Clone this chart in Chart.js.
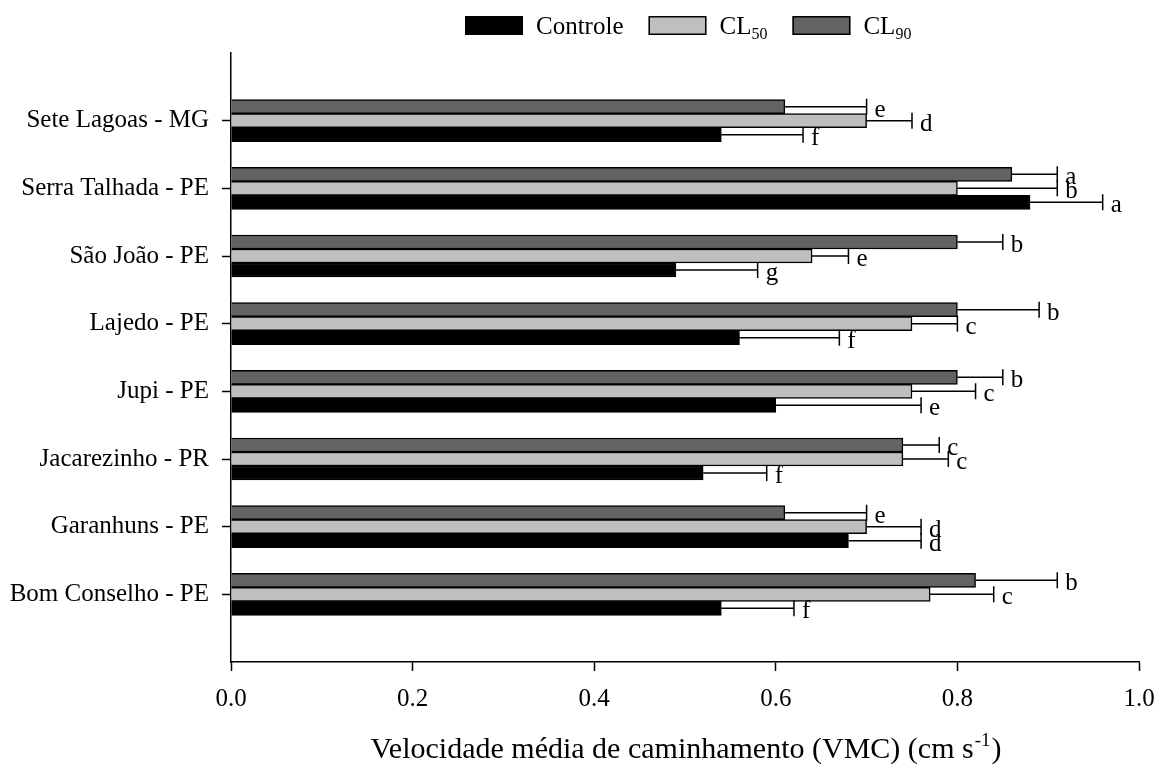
<!DOCTYPE html>
<html>
<head>
<meta charset="utf-8">
<script src="https://cdn.jsdelivr.net/npm/chart.js@4.4.0/dist/chart.umd.min.js"></script>
<style>
  html, body { margin: 0; padding: 0; background: #fff; }
</style>
</head>
<body>
<canvas id="grafico" width="1157" height="765"></canvas>
<script>
// categorias de cima para baixo
const categorias = ['Sete Lagoas - MG', 'Serra Talhada - PE', 'São João - PE', 'Lajedo - PE',
  'Jupi - PE', 'Jacarezinho - PR', 'Garanhuns - PE', 'Bom Conselho - PE'];

const controle = [0.54, 0.88, 0.49, 0.56, 0.60, 0.52, 0.68, 0.54];
const controleErro = [0.09, 0.08, 0.09, 0.11, 0.16, 0.07, 0.08, 0.08];
const controleLetras = ['f', 'a', 'g', 'f', 'e', 'f', 'd', 'f'];

const cl50 = [0.70, 0.80, 0.64, 0.75, 0.75, 0.74, 0.70, 0.77];
const cl50Erro = [0.05, 0.11, 0.04, 0.05, 0.07, 0.05, 0.06, 0.07];
const cl50Letras = ['d', 'b', 'e', 'c', 'c', 'c', 'd', 'c'];

const cl90 = [0.61, 0.86, 0.80, 0.80, 0.80, 0.74, 0.61, 0.82];
const cl90Erro = [0.09, 0.05, 0.05, 0.09, 0.05, 0.04, 0.09, 0.09];
const cl90Letras = ['e', 'a', 'b', 'b', 'b', 'c', 'e', 'b'];

const nomesSeries = ['Controle', 'CL50', 'CL90'];
const xTicks = [0, 0.2, 0.4, 0.6, 0.8, 1.0];
const tituloX = ['Velocidade média de caminhamento (VMC) (cm s', '-1', ')'];

const fonte = '"Liberation Serif", "Times New Roman", serif';
Chart.defaults.font.family = fonte;
Chart.defaults.font.size = 25;
Chart.defaults.color = '#000';

const pontos = vals => vals.map((v, i) => ({ x: v, y: i + 1 }));

// barras de erro + letras
const barrasErro = {
  id: 'barrasErro',
  afterDatasetsDraw(chart) {
    const ctx = chart.ctx;
    const sx = chart.scales.x;
    ctx.save();
    ctx.strokeStyle = '#000';
    ctx.lineWidth = 1.5;
    ctx.fillStyle = '#000';
    ctx.font = '25px ' + fonte;
    ctx.textBaseline = 'alphabetic';
    chart.data.datasets.forEach((ds, i) => {
      chart.getDatasetMeta(i).data.forEach((bar, j) => {
        const fim = sx.getPixelForValue(ds.data[j].x + ds.erros[j]);
        ctx.beginPath();
        ctx.moveTo(bar.x, bar.y);
        ctx.lineTo(fim, bar.y);
        ctx.moveTo(fim, bar.y - 8);
        ctx.lineTo(fim, bar.y + 8);
        ctx.stroke();
        ctx.fillText(ds.letras[j], fim + 8, bar.y + 10);
      });
    });
    ctx.restore();
  }
};

// legenda com subscrito
const legenda = {
  id: 'legenda',
  afterDraw(chart) {
    const ctx = chart.ctx;
    ctx.save();
    let x = 465;
    const y = 16, w = 58, h = 19;
    nomesSeries.forEach(nome => {
      const ds = chart.data.datasets.find(d => d.label === nome);
      ctx.fillStyle = ds.backgroundColor;
      ctx.fillRect(x, y, w, h);
      ctx.lineWidth = 1.5;
      ctx.strokeStyle = '#000';
      ctx.strokeRect(x + 0.75, y + 0.75, w - 1.5, h - 1.5);
      x += w + 13;
      const m = nome.match(/^(\D+)(\d+)$/);
      const base = m ? m[1] : nome;
      ctx.fillStyle = '#000';
      ctx.textBaseline = 'alphabetic';
      ctx.font = '25px ' + fonte;
      ctx.fillText(base, x, 34);
      x += ctx.measureText(base).width;
      if (m) {
        ctx.font = '16px ' + fonte;
        ctx.fillText(m[2], x, 39);
        x += ctx.measureText(m[2]).width;
      }
      x += 25;
    });
    ctx.restore();
  }
};

// titulo do eixo x com sobrescrito
const tituloEixo = {
  id: 'tituloEixo',
  afterDraw(chart) {
    const ctx = chart.ctx;
    const area = chart.chartArea;
    ctx.save();
    ctx.fillStyle = '#000';
    ctx.textBaseline = 'alphabetic';
    ctx.font = '30px ' + fonte;
    const w1 = ctx.measureText(tituloX[0]).width;
    const w3 = ctx.measureText(tituloX[2]).width;
    ctx.font = '19px ' + fonte;
    const w2 = ctx.measureText(tituloX[1]).width;
    let x = (area.left + area.right) / 2 - (w1 + w2 + w3) / 2;
    const base = 758;
    ctx.font = '30px ' + fonte;
    ctx.fillText(tituloX[0], x, base);
    x += w1 + 1;
    ctx.font = '19px ' + fonte;
    ctx.fillText(tituloX[1], x, base - 12);
    x += w2 + 1;
    ctx.font = '30px ' + fonte;
    ctx.fillText(tituloX[2], x, base);
    ctx.restore();
  }
};

const eixoGrid = {
  display: true,
  offset: false,
  drawOnChartArea: false,
  drawTicks: true,
  tickLength: 9,
  tickWidth: 1.5,
  tickColor: '#000'
};

new Chart(document.getElementById('grafico'), {
  type: 'bar',
  data: {
    datasets: [
      { label: 'CL90', data: pontos(cl90), erros: cl90Erro, letras: cl90Letras,
        backgroundColor: '#636363', borderColor: '#000', borderWidth: 1.5 },
      { label: 'CL50', data: pontos(cl50), erros: cl50Erro, letras: cl50Letras,
        backgroundColor: '#bfbfbf', borderColor: '#000', borderWidth: 1.5 },
      { label: 'Controle', data: pontos(controle), erros: controleErro, letras: controleLetras,
        backgroundColor: '#000', borderColor: '#000', borderWidth: 1.5 }
    ]
  },
  options: {
    indexAxis: 'y',
    responsive: false,
    animation: false,
    barThickness: 14,
    layout: { padding: { top: 53, right: 18, bottom: 0, left: 0 } },
    plugins: {
      legend: { display: false },
      tooltip: { enabled: false }
    },
    scales: {
      x: {
        type: 'linear',
        position: 'bottom',
        min: 0,
        max: 1,
        offset: false,
        afterBuildTicks: s => { s.ticks = xTicks.map(v => ({ value: v })); },
        ticks: { padding: 13, callback: v => v.toFixed(1) },
        grid: eixoGrid,
        border: { display: true, color: '#000', width: 1.5 },
        afterFit: s => { s.height = 103; s.paddingRight = 0; s.paddingLeft = 0; }
      },
      y: {
        type: 'linear',
        min: 0,
        max: categorias.length + 1,
        reverse: true,
        offset: false,
        afterBuildTicks: s => { s.ticks = categorias.map((c, i) => ({ value: i + 1 })); },
        ticks: { padding: 13, callback: v => categorias[v - 1] || '' },
        grid: eixoGrid,
        border: { display: true, color: '#000', width: 1.5 },
        afterFit: s => { s.width = 231; s.paddingTop = 0; s.paddingBottom = 0; }
      }
    }
  },
  plugins: [barrasErro, legenda, tituloEixo]
});
</script>
</body>
</html>
